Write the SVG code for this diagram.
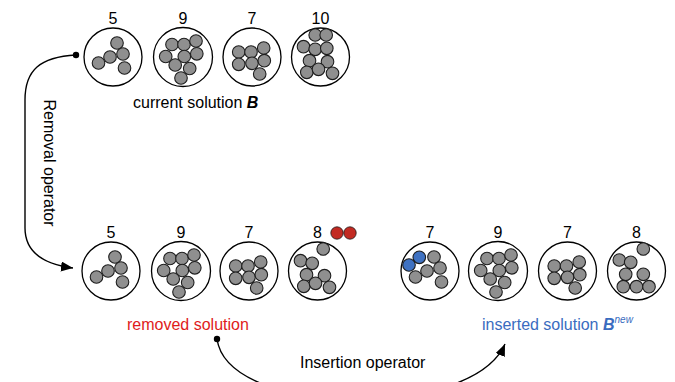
<svg xmlns="http://www.w3.org/2000/svg" width="675" height="382" viewBox="0 0 675 382">
<style>
.bin{fill:#fff;stroke:#000;stroke-width:1.3}
.b{fill:#8f8f8f;stroke:#1e1e1e;stroke-width:1.1}
.blue{fill:#3f72c2;stroke:#1e1e1e;stroke-width:1.1}
.red{fill:#c22a22;stroke:#1e1e1e;stroke-width:0.8}
.num{font-family:"Liberation Sans",Arial,sans-serif;font-size:16px;fill:#000;text-anchor:middle}
.lbl{font-family:"Liberation Sans",Arial,sans-serif;font-size:16px}
.conn{fill:none;stroke:#000;stroke-width:1.4}
</style>
<defs>
<marker id="ah" markerUnits="userSpaceOnUse" markerWidth="14" markerHeight="12" refX="12" refY="5" orient="auto">
<path d="M0,0 L12,5 L0,10 Z" fill="#000"/>
</marker>
<g id="pA">
<circle class="b" cx="4" cy="-14" r="6.3"/><circle class="b" cx="10" cy="-3" r="6.3"/><circle class="b" cx="-3" cy="0" r="6.3"/><circle class="b" cx="-14.5" cy="6" r="6.3"/><circle class="b" cx="11.5" cy="11" r="6.3"/>
</g>
<g id="pB">
<circle class="b" cx="-11" cy="-12.5" r="6.3"/><circle class="b" cx="1" cy="-12.5" r="6.3"/><circle class="b" cx="13" cy="-16" r="6.3"/><circle class="b" cx="-17.3" cy="-0.5" r="6.3"/><circle class="b" cx="1.3" cy="-0.5" r="6.3"/><circle class="b" cx="13.8" cy="-3.2" r="6.3"/><circle class="b" cx="-7.8" cy="8" r="6.3"/><circle class="b" cx="6.7" cy="11.5" r="6.3"/><circle class="b" cx="-2" cy="21" r="6.3"/>
</g>
<g id="pC">
<circle class="b" cx="-13.3" cy="-5" r="6.3"/><circle class="b" cx="-1" cy="-5" r="6.3"/><circle class="b" cx="11.7" cy="-9" r="6.3"/><circle class="b" cx="-13.3" cy="7.3" r="6.3"/><circle class="b" cx="0" cy="6.3" r="6.3"/><circle class="b" cx="12.3" cy="3.7" r="6.3"/><circle class="b" cx="7.7" cy="17" r="6.3"/>
</g>
</defs>

<!-- current solution B -->
<g id="cur1" transform="translate(113,57)">
<text class="num" x="0" y="-33">5</text>
<circle class="bin" r="29"/><use href="#pA"/>
</g>
<g id="cur2" transform="translate(183,57)">
<text class="num" x="0" y="-33">9</text>
<circle class="bin" r="29.5"/><use href="#pB"/>
</g>
<g id="cur3" transform="translate(252,57)">
<text class="num" x="0" y="-33">7</text>
<circle class="bin" r="29"/><use href="#pC"/>
</g>
<g id="cur4" transform="translate(320.5,57)">
<text class="num" x="0" y="-33">10</text>
<circle class="bin" r="29"/>
<circle class="b" cx="-5.3" cy="-22" r="6.3"/><circle class="b" cx="5.7" cy="-22" r="6.3"/><circle class="b" cx="-17" cy="-10.3" r="6.3"/><circle class="b" cx="-5.3" cy="-7.7" r="6.3"/><circle class="b" cx="6.3" cy="-8.7" r="6.3"/><circle class="b" cx="-11" cy="3.7" r="6.3"/><circle class="b" cx="7" cy="4.7" r="6.3"/><circle class="b" cx="-13.7" cy="15.3" r="6.3"/><circle class="b" cx="-2" cy="12.3" r="6.3"/><circle class="b" cx="12" cy="16.3" r="6.3"/>
</g>
<text id="curLabel" class="lbl" x="133" y="108" fill="#000">current solution <tspan font-weight="bold" font-style="italic">B</tspan></text>

<!-- removed solution -->
<g id="rem1" transform="translate(111,271)">
<text class="num" x="0" y="-33">5</text>
<circle class="bin" r="29"/><use href="#pA"/>
</g>
<g id="rem2" transform="translate(181,271)">
<text class="num" x="0" y="-33">9</text>
<circle class="bin" r="29.5"/><use href="#pB"/>
</g>
<g id="rem3" transform="translate(249,271)">
<text class="num" x="0" y="-33">7</text>
<circle class="bin" r="29"/><use href="#pC"/>
</g>
<g id="rem4" transform="translate(317.5,271)">
<text class="num" x="0" y="-33">8</text>
<circle class="bin" r="29"/>
<circle class="b" cx="5.7" cy="-22" r="6.3"/><circle class="b" cx="-17" cy="-10.3" r="6.3"/><circle class="b" cx="-5.3" cy="-7.7" r="6.3"/><circle class="b" cx="-11" cy="3.7" r="6.3"/><circle class="b" cx="7" cy="4.7" r="6.3"/><circle class="b" cx="-13.7" cy="15.3" r="6.3"/><circle class="b" cx="-2" cy="12.3" r="6.3"/><circle class="b" cx="12" cy="16.3" r="6.3"/>
</g>
<g id="removedItems">
<circle class="red" cx="337" cy="233" r="6.2"/><circle class="red" cx="350" cy="233" r="6.2"/>
</g>
<text id="remLabel" class="lbl" x="127" y="330" fill="#e01b1b">removed solution</text>

<!-- inserted solution -->
<g id="ins1" transform="translate(430,271)">
<text class="num" x="0" y="-33">7</text>
<circle class="bin" r="29"/>
<circle class="blue" cx="-21" cy="-6" r="6.3"/><circle class="blue" cx="-10.7" cy="-13.7" r="6.3"/>
<use href="#pA"/>
</g>
<g id="ins2" transform="translate(498,271)">
<text class="num" x="0" y="-33">9</text>
<circle class="bin" r="29.5"/><use href="#pB"/>
</g>
<g id="ins3" transform="translate(567.5,271)">
<text class="num" x="0" y="-33">7</text>
<circle class="bin" r="29"/><use href="#pC"/>
</g>
<g id="ins4" transform="translate(636.5,271)">
<text class="num" x="0" y="-33">8</text>
<circle class="bin" r="29"/>
<circle class="b" cx="6.8" cy="-22" r="6.3"/><circle class="b" cx="-17.2" cy="-11" r="6.3"/><circle class="b" cx="-5.8" cy="-8.7" r="6.3"/><circle class="b" cx="-10.8" cy="3.3" r="6.3"/><circle class="b" cx="6.8" cy="3.3" r="6.3"/><circle class="b" cx="-13.2" cy="15.7" r="6.3"/><circle class="b" cx="0" cy="15.7" r="6.3"/><circle class="b" cx="12.5" cy="15.7" r="6.3"/>
</g>
<text id="insLabel" class="lbl" x="482" y="330" fill="#3a6cc0">inserted solution <tspan font-weight="bold" font-style="italic">B</tspan><tspan font-style="italic" font-size="10" dy="-7">new</tspan></text>

<!-- connectors -->
<g id="connectors">
<circle cx="76" cy="55" r="3.2" fill="#000"/>
<path class="conn" d="M76,55 C40,57 25,70 25,100 L25,228 C25,252 42,264 73,268" marker-end="url(#ah)"/>
<text class="lbl" transform="translate(44,163) rotate(90)" text-anchor="middle" fill="#000">Removal operator</text>
<circle cx="217" cy="339" r="3.2" fill="#000"/>
<path class="conn" d="M217,339 C228,418 472,420 505,344" marker-end="url(#ah)"/>
<text class="lbl" x="300" y="368" fill="#000">Insertion operator</text>
</g>
</svg>
